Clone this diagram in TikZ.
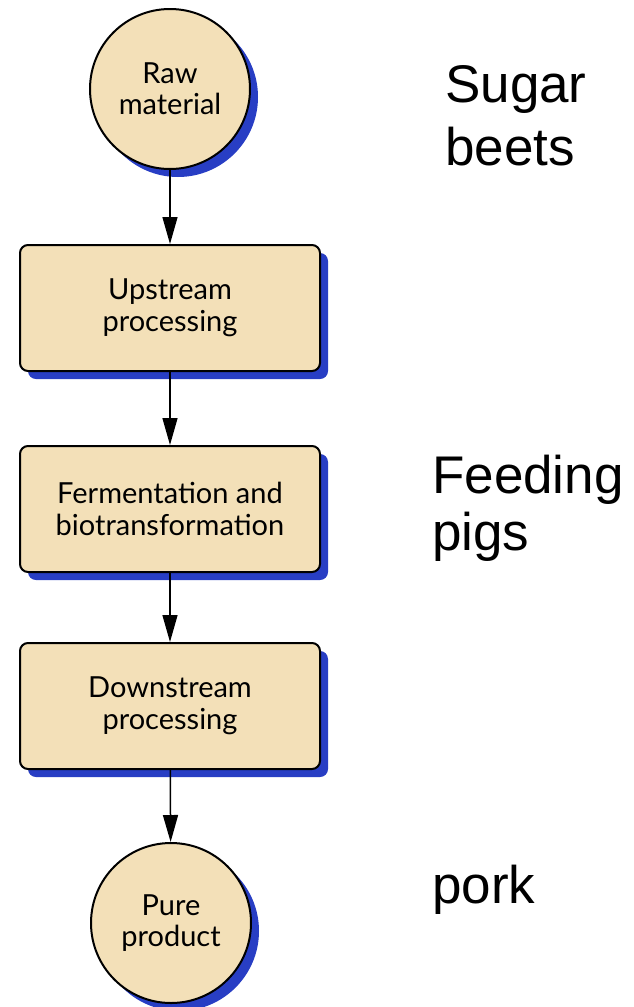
\documentclass[tikz,border=0pt]{standalone}
\usepackage{fontspec}
\setmainfont{Lato}
\newfontfamily\arialfont{Liberation Sans}
\usetikzlibrary{shadows,arrows.meta}
\definecolor{beige}{RGB}{243,224,184}
\definecolor{shadowblue}{RGB}{40,62,196}
\begin{document}
\begin{tikzpicture}[x=1pt,y=-1pt,
  blueshadow/.style={drop shadow={shadow xshift=8pt,shadow yshift=-8pt,fill=shadowblue,opacity=1}},
  procbox/.style={draw=black,line width=2pt,fill=beige,rounded corners=8pt,
    minimum width=300pt,minimum height=126pt,align=center,
    font=\fontsize{29}{32}\selectfont,blueshadow},
  terminal/.style={circle,draw=black,line width=2pt,fill=beige,minimum size=160pt,
    inner sep=0pt,align=center,font=\fontsize{29}{31}\selectfont,blueshadow},
  flow/.style={-{Triangle[length=27pt,width=15pt]},line width=1.5pt},
  side/.style={align=left,inner sep=0pt,anchor=base west}]
\useasboundingbox (0,0) rectangle (633,1007);
\node[terminal] (raw) at (170,89) {Raw\\material};
\node[procbox] (up) at (170,308) {Upstream\\processing};
\node[procbox] (ferm) at (170,509) {Fermentation and\\biotransformation};
\node[procbox] (down) at (170,706) {Downstream\\processing};
\node[terminal] (pure) at (171,923) {Pure\\product};
\draw[flow] (raw) -- (up);
\draw[flow] (up) -- (ferm);
\draw[flow] (ferm) -- (down);
\draw[flow] (down) -- (pure);
\node[side,font=\arialfont\fontsize{53}{63}\selectfont] (sugar) at (445,165) {Sugar\\beets};
\node[side,font=\arialfont\fontsize{53}{57}\selectfont] (feed) at (432,550) {Feeding\\pigs};
\node[side,font=\arialfont\fontsize{53}{57}\selectfont] (pork) at (432,903) {pork};
\end{tikzpicture}
\end{document}
